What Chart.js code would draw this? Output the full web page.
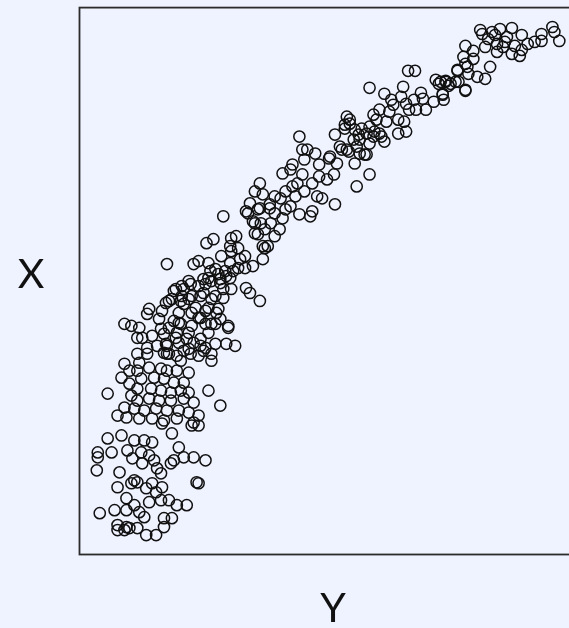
<!DOCTYPE html>
<html>
<head>
<meta charset="utf-8">
<script src="https://cdn.jsdelivr.net/npm/chart.js@4/dist/chart.umd.min.js"></script>
<style>
  html, body { margin: 0; padding: 0; background: #eff2ff; overflow: hidden; }
  #wrap { position: relative; width: 600px; height: 628px; }
</style>
</head>
<body>
<div id="wrap"><canvas id="c" width="600" height="628"></canvas></div>
<script>
// Axis titles
const xAxisTitle = "Y";   // horizontal axis label (bottom)
const yAxisTitle = "X";   // vertical axis label (left)

// Value ranges (no tick labels are shown)
const xRange = [0, 520];
const yRange = [0, 549];

// Series values (horizontal values)
const xs = [
406,408,418,426,438,448,433,423,429,441,454,446,438,423,411,468,468,479,481,486,
391,399,389,399,416,393,383,394,403,411,381,371,364,374,391,368,384,414,461,448,421,431,
333,340,294,309,328,326,346,348,339,361,366,371,376,383,391,391,368,359,369,351,341,334,
331,318,314,304,298,301,311,323,329,323,331,299,306,309,298,291,286,283,278,271,274,269,
259,264,271,281,284,291,254,294,316,
223,226,231,239,228,216,206,214,226,243,253,261,266,273,279,289,269,274,279,284,294,304,
294,281,258,251,243,236,241,246,228,221,216,219,209,204,198,193,186,183,178,173,183,169,
176,184,198,206,223,234,236,259,209,214,
146,89,129,136,144,154,159,153,161,154,168,176,168,161,153,186,188,191,171,181,178,178,
188,194,198,203,193,116,121,131,133,141,149,143,146,134,126,121,111,104,98,94,88,104,
114,126,138,154,169,173,183,71,
163,181,186,138,148,156,143,153,131,128,113,106,96,91,103,111,123,134,146,141,114,101,
84,128,123,114,101,91,134,151,143,131,123,109,98,88,111,128,138,149,158,89,99,121,134,
69,46,53,61,81,83,96,103,106,118,131,139,121,128,138,151,59,64,74,86,99,111,116,123,
101,89,79,69,59,61,69,86,91,106,103,113,126,134,46,43,51,59,71,83,89,99,111,63,76,86,
96,106,51,59,73,83,93,103,111,29,131,143,53,59,71,81,93,106,116,46,56,66,78,89,101,111,
121,48,61,74,86,99,116,39,
29,43,33,19,19,18,41,49,56,66,74,63,71,54,64,76,79,83,93,96,101,106,116,128,94,84,121,
39,53,56,59,68,74,78,84,119,121,48,56,71,83,91,99,109,21,36,48,61,66,39,48,46,51,59,68,
78,86,86,94,39,114
];
// Series values (vertical values)
const ys = [
526,522,524,527,528,521,519,512,509,510,512,500,502,504,509,522,515,529,524,515,
510,505,499,497,489,489,485,482,479,477,474,475,472,470,465,462,474,517,514,506,521,514,
485,485,468,462,469,459,463,457,456,476,474,474,472,486,492,466,461,454,456,446,446,446,
452,451,444,446,441,436,434,436,434,422,424,424,419,414,419,422,427,421,416,439,432,427,
421,409,406,409,402,401,399,412,456,
419,406,406,402,396,391,382,386,381,391,397,392,406,404,392,401,431,436,426,416,429,422,
381,369,381,376,379,372,359,357,364,372,369,359,364,357,359,351,361,372,364,352,347,344,
334,332,342,337,341,339,344,351,346,349,
339,291,312,316,299,317,319,309,307,304,299,289,287,287,292,296,307,309,342,346,332,322,
326,332,319,326,347,291,294,292,284,281,279,272,266,274,276,269,274,269,266,256,252,259,
259,262,259,266,267,262,254,246,
296,321,309,286,284,284,276,277,277,271,271,266,264,254,254,256,259,256,257,246,242,242,
244,244,237,229,232,227,231,227,236,222,216,216,217,211,206,207,211,211,209,201,199,199,201,
241,231,229,227,236,226,234,231,251,247,247,242,237,231,231,229,217,217,219,221,222,222,212,209,
212,209,209,207,201,192,201,202,201,204,194,201,204,194,191,177,184,184,187,186,184,184,182,176,177,176,
172,172,171,166,166,164,162,164,162,161,164,149,159,154,156,154,154,156,152,147,146,144,146,144,144,142,
139,137,136,136,134,136,132,139,
116,119,102,102,97,84,82,104,114,114,112,102,99,96,91,94,86,81,91,94,107,97,97,94,121,131,129,
67,71,74,72,66,71,62,67,72,71,56,49,52,54,54,49,49,41,44,44,42,37,29,27,24,26,26,19,
19,27,36,36,24,129
];

const points = xs.map((x, i) => ({ x: x, y: ys[i] }));

const framePlugin = {
  id: 'frame',
  beforeDatasetsDraw(chart) {
    const a = chart.chartArea;
    const ctx = chart.ctx;
    ctx.save();
    ctx.strokeStyle = '#2b2b2b';
    ctx.lineWidth = 1.8;
    ctx.strokeRect(a.left + 0.5, a.top + 0.5, a.right - a.left, a.bottom - a.top);
    ctx.restore();
  },
  afterDraw(chart) {
    const a = chart.chartArea;
    const ctx = chart.ctx;
    ctx.save();
    ctx.fillStyle = '#111111';
    ctx.font = '400 41px Lato, "Open Sans", sans-serif';
    ctx.textAlign = 'center';
    ctx.textBaseline = 'alphabetic';
    ctx.fillText(yAxisTitle, 31, 288);
    ctx.fillText(xAxisTitle, (a.left + a.right) / 2 - 3, 622);
    ctx.restore();
  }
};

new Chart(document.getElementById('c'), {
  type: 'scatter',
  data: {
    datasets: [{
      data: points,
      pointRadius: 5.6,
      pointHoverRadius: 5.6,
      pointBackgroundColor: 'rgba(0,0,0,0)',
      pointBorderColor: '#111111',
      pointBorderWidth: 1.5
    }]
  },
  options: {
    responsive: false,
    animation: false,
    layout: { padding: { left: 79, top: 5, right: 1, bottom: 74 } },
    plugins: { legend: { display: false }, tooltip: { enabled: false }, title: { display: false } },
    scales: {
      x: { type: 'linear', min: xRange[0], max: xRange[1], display: false },
      y: { type: 'linear', min: yRange[0], max: yRange[1], display: false }
    }
  },
  plugins: [framePlugin]
});
</script>
</body>
</html>
